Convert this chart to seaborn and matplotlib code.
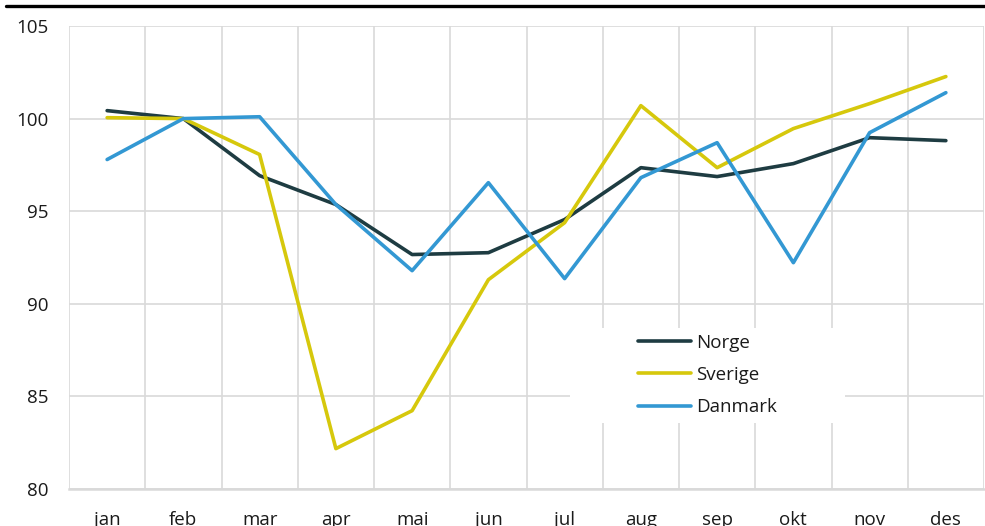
import matplotlib
matplotlib.use("Agg")
import matplotlib.pyplot as plt
import seaborn as sns
import pandas as pd
from matplotlib.lines import Line2D
from matplotlib.patches import Rectangle

months = ["jan", "feb", "mar", "apr", "mai", "jun", "jul", "aug", "sep", "okt", "nov", "des"]
norge = [100.43, 100.0, 96.92, 95.36, 92.66, 92.76, 94.55, 97.35, 96.87, 97.57, 98.97, 98.81]
sverige = [100.05, 100.0, 98.06, 82.18, 84.23, 91.3, 94.38, 100.7, 97.35, 99.46, 100.81, 102.27]
danmark = [97.79, 100.0, 100.1, 95.36, 91.79, 96.54, 91.36, 96.81, 98.7, 92.22, 99.24, 101.4]
series_names = ["Norge", "Sverige", "Danmark"]
yticks = [80, 85, 90, 95, 100, 105]

colors = {"Norge": "#1e3c42", "Sverige": "#d6c80c", "Danmark": "#3398d3"}

rows = []
for name, vals in zip(series_names, [norge, sverige, danmark]):
    for i, (m, v) in enumerate(zip(months, vals)):
        rows.append({"idx": i, "month": m, "value": v, "series": name})
df = pd.DataFrame(rows)

sns.set_theme(style="white")
plt.rcParams['font.family'] = ['Open Sans', 'DejaVu Sans']

fig = plt.figure(figsize=(9.85, 5.26), dpi=100)
ax = fig.add_axes([69/985, 37/526, 915/985, 463/526])

sns.lineplot(data=df, x="idx", y="value", hue="series", hue_order=series_names,
             palette=colors, linewidth=2.6, ax=ax, legend=False, sort=False)

ax.set_xlim(-0.5, 11.5)
ax.set_ylim(80, 105)
ax.set_yticks(yticks)
ax.set_yticklabels([str(t) for t in yticks])
ax.set_xticks(range(len(months)))
ax.set_xticklabels(months)
ax.set_xticks([i - 0.5 for i in range(len(months) + 1)], minor=True)
ax.grid(False)
ax.grid(True, which="minor", axis="x", color="#d9d9d9", linewidth=1.2)
ax.grid(True, which="major", axis="y", color="#d9d9d9", linewidth=1.2)
ax.set_axisbelow(True)
for s in ["top", "left", "right"]:
    ax.spines[s].set_visible(False)
ax.spines["bottom"].set_color("#d9d9d9")
ax.spines["bottom"].set_linewidth(1.8)
ax.tick_params(axis="both", which="both", length=0, labelsize=13.5, colors="#1a1a1a")
ax.tick_params(axis="x", pad=16)
ax.tick_params(axis="y", pad=15)
ax.set_xlabel("")
ax.set_ylabel("")

# white box behind legend
x0 = (570 - 69) / 915
y0 = (489 - 423) / 463
w = (845 - 570) / 915
h = (423 - 328) / 463
ax.add_patch(Rectangle((x0, y0), w, h, transform=ax.transAxes, facecolor="white",
                       edgecolor="none", zorder=1.5))

handles = [Line2D([0], [0], color=colors[n], linewidth=2.6) for n in series_names]
leg = ax.legend(handles, series_names, loc="center left",
                bbox_to_anchor=((623 - 69) / 915, (489 - 375) / 463),
                frameon=False, fontsize=13.5, handlelength=2.85, handletextpad=0.27,
                labelspacing=0.75, borderpad=0.3)
for t in leg.get_texts():
    t.set_color("#1a1a1a")

fig.add_artist(Line2D([6/985, 1.0], [1 - 6/526, 1 - 6/526], color="black",
                      linewidth=2.4, transform=fig.transFigure))

fig.savefig("out.png", dpi=100)
